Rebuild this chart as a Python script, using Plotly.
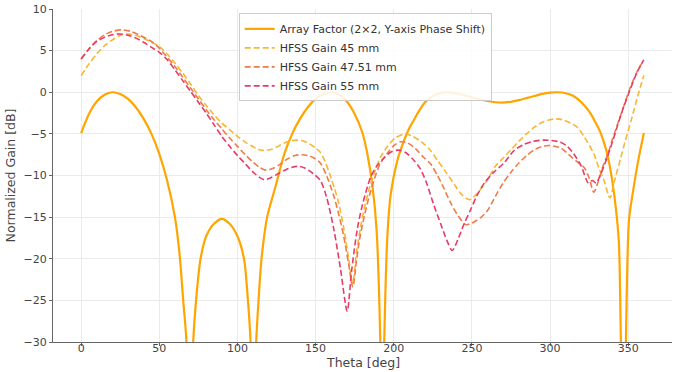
import plotly.graph_objects as go

# ---------------- data ----------------
af_theta = [0, 5, 10, 15, 20, 25, 30, 35, 40, 45,
            50, 55, 60, 63, 65.3, 67.4, 69.5, 71.7, 74, 76.4,
            80, 85, 90, 95, 100, 104.2, 106.3, 108.4, 110.3, 112,
            113.5, 115.4, 119, 124.4, 130, 135, 140, 145, 150, 155,
            160, 165, 170, 175, 180, 183, 186.4, 189, 191.4, 192.7,
            193.9, 196, 198, 202, 205, 210, 213, 216, 220, 225,
            230, 233, 240, 245, 250, 255, 260, 265, 269, 275,
            280, 285, 290, 295, 300, 305, 310, 315, 320, 325,
            329, 332.4, 336, 338.8, 342, 344, 345.3, 347, 348.5, 350.5,
            353, 356, 358, 360]
af_gain = [-4.9, -2.6, -1.1, -0.3, 0, -0.2, -0.8, -1.8, -3.2, -5.0,
           -7.4, -10.6, -15.0, -19.5, -25, -30, -48, -30, -24, -20,
           -17.3, -15.8, -15.2, -15.8, -17.3, -20, -24, -30, -48, -30,
           -25, -20, -15, -11.3, -7.4, -5.0, -3.2, -1.8, -0.8, -0.2,
           0, -0.3, -1.1, -2.6, -4.9, -7.3, -11.3, -16.5, -30, -48,
           -30, -17, -12.3, -8.4, -6.6, -4.3, -3.3, -2.3, -1.2, -0.45,
           -0.08, 0, -0.12, -0.35, -0.6, -0.85, -1.05, -1.2, -1.25, -1.15,
           -0.95, -0.7, -0.45, -0.2, -0.05, 0, -0.12, -0.45, -1.2, -2.3,
           -3.6, -4.9, -7.0, -9.5, -13.8, -18, -30, -48, -30, -15.3,
           -12, -8.6, -6.7, -4.9]

g45_theta = [0, 5, 10, 15, 20, 25, 28, 32, 36, 40,
             45, 50, 55, 60, 65, 70, 75, 80, 85, 90,
             95, 100, 105, 110, 114, 117, 122, 126, 130, 134,
             138, 142, 146, 150, 153, 156, 159, 162, 165, 168,
             171, 173.7, 176, 178, 181, 184, 187.3, 191, 195.8, 201,
             207.5, 212, 218, 223.5, 228, 233, 238.5, 243, 248.5, 254,
             259.8, 265, 270, 274.7, 280, 285, 290, 295, 300, 304,
             308, 313, 317.4, 322, 328, 331, 334.5, 338.3, 341, 345,
             348, 352, 356, 360]
g45_gain = [2.0, 3.4, 4.6, 5.6, 6.3, 6.85, 7.0, 6.95, 6.75, 6.45,
            6.0, 5.5, 4.6, 3.5, 2.3, 1.0, -0.4, -1.6, -2.7, -3.7,
            -4.5, -5.3, -6.0, -6.55, -6.9, -7.0, -6.85, -6.5, -6.1, -5.85,
            -5.75, -5.85, -6.2, -6.7, -7.2, -8.3, -9.8, -11.5, -13.5, -16.3,
            -19.8, -23.0, -19.5, -17.0, -14.1, -11.8, -9.8, -8.0, -6.55, -5.5,
            -5.0, -5.3, -6.0, -7.0, -8.2, -9.5, -11.0, -12.2, -12.9, -12.0,
            -10.55, -8.9, -7.9, -6.95, -5.9, -5.0, -4.2, -3.6, -3.3, -3.2,
            -3.3, -3.7, -4.2, -5.4, -7.4, -9.0, -10.6, -12.7, -10.8, -8.0,
            -5.9, -3.3, -0.5, 2.0]

g4751_theta = [0, 5, 10, 15, 20, 26, 32, 38, 45, 50,
               55, 60, 65, 70, 75, 80, 85, 90, 95, 100,
               105, 110, 114, 118, 122, 127, 132, 137, 141, 145,
               149, 153, 157, 161.7, 165, 168, 171, 173.8, 176, 178,
               181, 184, 187.3, 191, 195.8, 200, 204.4, 209, 214, 219,
               223.5, 228, 232, 236.4, 241, 246, 249, 252, 256, 260,
               265, 270, 275, 280, 285, 290, 295, 299, 303, 307,
               312, 317, 322, 325, 328, 331, 334, 337, 340, 344,
               348, 352, 356, 360]
g4751_gain = [4.0, 5.2, 6.2, 6.9, 7.3, 7.5, 7.3, 6.8, 6.1, 5.3,
              4.2, 3.1, 1.8, 0.5, -0.8, -2.1, -3.3, -4.4, -5.5, -6.5,
              -7.5, -8.4, -9.0, -9.35, -9.2, -8.7, -8.0, -7.6, -7.5, -7.6,
              -7.9, -8.5, -10.0, -12.5, -14.8, -17.3, -20.5, -23.4, -20.5, -17.8,
              -15.0, -12.7, -10.6, -8.7, -7.35, -6.4, -5.95, -6.1, -6.8, -7.8,
              -8.6, -10.0, -11.5, -13.3, -14.8, -15.9, -15.8, -15.5, -15.0, -14.2,
              -12.5, -10.9, -9.6, -8.5, -7.6, -6.9, -6.5, -6.4, -6.5, -6.7,
              -7.5, -8.3, -9.1, -10.3, -12.0, -10.6, -8.8, -7.4, -5.6, -3.4,
              -1.2, 0.9, 2.6, 3.9]

g55_theta = [0, 5, 10, 15, 20, 25, 30, 35, 40, 45,
             50, 55, 60, 65, 70, 75, 80, 85, 90, 95,
             100, 105, 110, 114, 117, 121, 126, 131, 135, 139,
             143, 148, 153, 157, 161.7, 166, 170.2, 173, 176.6, 180,
             185.2, 189, 193.7, 198, 203, 208, 213, 217, 221, 225.7,
             230, 234, 237.4, 241, 245, 249.2, 253, 258, 264, 270.5,
             277, 283, 289, 296, 301, 306.7, 311, 315, 320, 324.5,
             327, 329.5, 332, 335, 338.8, 343, 347, 351, 355.8, 360]
g55_gain = [4.0, 5.2, 6.1, 6.6, 6.9, 7.0, 6.85, 6.5, 6.0, 5.4,
            4.8, 3.9, 2.7, 1.4, 0.1, -1.2, -2.5, -3.9, -5.3, -6.5,
            -7.6, -8.6, -9.6, -10.2, -10.5, -10.3, -9.8, -9.3, -9.0, -8.9,
            -9.1, -9.7, -10.6, -12.6, -16.5, -21.3, -26.3, -21.5, -16.5, -13.5,
            -10.2, -8.9, -7.9, -7.2, -6.95, -7.3, -8.2, -9.2, -10.9, -13.6,
            -15.8, -17.8, -19.0, -17.7, -15.8, -14.1, -12.5, -10.9, -9.6, -8.5,
            -7.0, -6.3, -5.9, -5.75, -5.8, -6.0, -6.5, -7.35, -8.9, -10.9,
            -10.6, -10.9, -10.0, -8.6, -6.6, -4.1, -1.8, 0.2, 2.45, 3.9]

series_names = ["Array Factor (2×2, Y-axis Phase Shift)", "HFSS Gain 45 mm",
                "HFSS Gain 47.51 mm", "HFSS Gain 55 mm"]
x_ticks = [0, 50, 100, 150, 200, 250, 300, 350]
y_ticks = [-30, -25, -20, -15, -10, -5, 0, 5, 10]
x_title = "Theta [deg]"
y_title = "Normalized Gain [dB]"

# ---------------- figure ----------------
FONT = "DejaVu Sans"
fig = go.Figure()
fig.add_trace(go.Scatter(x=af_theta, y=af_gain, mode="lines", name=series_names[0],
                         line=dict(color="#FFA500", width=2.2, shape="spline", smoothing=0.8)))
fig.add_trace(go.Scatter(x=g45_theta, y=g45_gain, mode="lines", name=series_names[1],
                         line=dict(color="#F7B733", width=1.6, dash="6px,3px", shape="spline", smoothing=0.8)))
fig.add_trace(go.Scatter(x=g4751_theta, y=g4751_gain, mode="lines", name=series_names[2],
                         line=dict(color="#EF7B48", width=1.6, dash="6px,3px", shape="spline", smoothing=0.8)))
fig.add_trace(go.Scatter(x=g55_theta, y=g55_gain, mode="lines", name=series_names[3],
                         line=dict(color="#E63C6A", width=1.6, dash="6px,3px", shape="spline", smoothing=0.8)))

axis_common = dict(showgrid=True, gridcolor="#EBEBEB", gridwidth=1, zeroline=False,
                   showline=True, linecolor="#666666", linewidth=1.2,
                   ticks="outside", ticklen=3, tickcolor="#666666", automargin=False,
                   tickfont=dict(family=FONT, size=11, color="#444444"))

fig.update_layout(
    width=677, height=372,
    margin=dict(l=53, r=5, t=9, b=30),
    paper_bgcolor="white", plot_bgcolor="white",
    font=dict(family=FONT, size=11, color="#444444"),
    xaxis=dict(range=[-18, 378], tickvals=x_ticks, ticklabelstandoff=-7, **axis_common),
    yaxis=dict(range=[-30, 10], tickvals=y_ticks,
               title=dict(text=y_title, font=dict(family=FONT, size=12.5, color="#444444"), standoff=5),
               **axis_common),
    legend=dict(x=0.3, y=0.987, xanchor="left", yanchor="top",
                bgcolor="rgba(255,255,255,0.85)", bordercolor="#CCCCCC", borderwidth=1,
                font=dict(family=FONT, size=11, color="#333333"),
                tracegroupgap=0, itemwidth=30),
    showlegend=True,
)
fig.add_annotation(text=x_title, xref="paper", yref="paper", x=0.5, y=-0.063,
                   xanchor="center", yanchor="middle", showarrow=False, borderpad=0,
                   font=dict(family=FONT, size=12.5, color="#444444"))

fig.write_html("out.html", config={"displayModeBar": False},
               post_script="document.body.style.margin='0';document.body.style.padding='0';")
